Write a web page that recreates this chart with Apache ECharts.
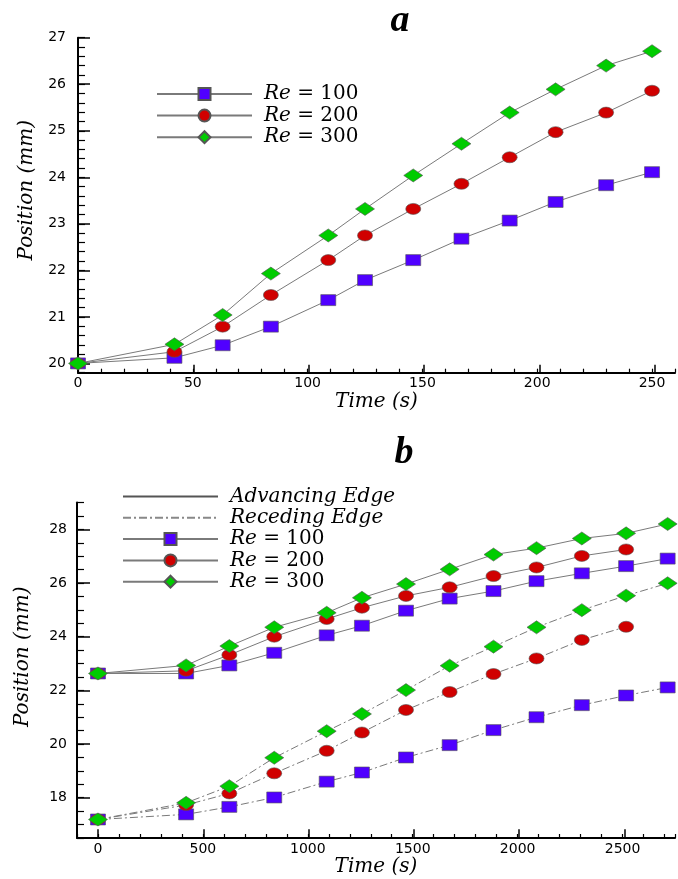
<!DOCTYPE html>
<html><head><meta charset="utf-8">
<script src="https://cdn.jsdelivr.net/npm/echarts@6/dist/echarts.min.js"></script>
<style>html,body{margin:0;padding:0;background:#fff}#c{width:678px;height:879px}</style>
</head><body><div id="c"></div>
<script>
// ---- Chart a ----
const timeA = [0, 42, 63, 84, 109, 125, 146, 167, 188, 208, 230, 250];
const posA_Re100 = [20, 20.12, 20.39, 20.79, 21.36, 21.79, 22.22, 22.68, 23.07, 23.47, 23.83, 24.11];
const posA_Re200 = [20, 20.25, 20.79, 21.47, 22.22, 22.75, 23.32, 23.86, 24.43, 24.97, 25.39, 25.86];
const posA_Re300 = [20, 20.41, 21.04, 21.93, 22.75, 23.32, 24.04, 24.72, 25.39, 25.89, 26.40, 26.71];
// ---- Chart b ----
const timeB = [0, 420, 626, 840, 1090, 1258, 1468, 1676, 1885, 2090, 2306, 2517, 2715];
const advRe100 = [22.63, 22.63, 22.93, 23.40, 24.05, 24.41, 24.97, 25.42, 25.70, 26.07, 26.36, 26.63, 26.91];
const advRe200 = [22.63, 22.73, 23.32, 24.00, 24.66, 25.08, 25.52, 25.84, 26.26, 26.58, 27.01, 27.25];
const advRe300 = [22.63, 22.93, 23.65, 24.35, 24.89, 25.45, 25.96, 26.51, 27.06, 27.30, 27.66, 27.85, 28.20];
const recRe100 = [17.19, 17.38, 17.66, 18.01, 18.60, 18.94, 19.50, 19.96, 20.52, 21.00, 21.45, 21.81, 22.11];
const recRe200 = [17.19, 17.73, 18.16, 18.91, 19.75, 20.43, 21.27, 21.94, 22.61, 23.19, 23.88, 24.37];
const recRe300 = [17.19, 17.81, 18.43, 19.49, 20.48, 21.12, 22.01, 22.92, 23.63, 24.35, 24.99, 25.53, 25.99];
// ---- Labels ----
const seriesNames = ['Re = 100', 'Re = 200', 'Re = 300'];
const edgeNames = ['Advancing Edge', 'Receding Edge'];
const xName = 'Time (s)';
const yName = 'Position (mm)';
const panelTitles = ['a', 'b'];

const zip = (xs, ys) => ys.map((y, i) => [xs[i], y]);
const COLORS = ['#5000ff', '#d00000', '#00cc00'];
const SYMBOLS = ['rect', 'circle', 'diamond'];
const SIZES = [[15, 11], [15, 11], [19, 13]];
const LINE = '#7a7a7a';
const DASHDOT = [8, 3, 2, 3];
const tickFont = { fontFamily: 'DejaVu Sans', fontSize: 14, color: '#000' };
const nameFont = { fontFamily: 'DejaVu Serif', fontStyle: 'italic', fontSize: 20, color: '#000' };
const axisLine = { show: true, onZero: false, lineStyle: { color: '#000', width: 2 } };
const hiddenLine = { show: false, onZero: false };
const isInt = v => Math.abs(v - Math.round(v)) < 1e-6;

function mkSeries(name, xi, yi, data, k, dashed) {
  return {
    type: 'line', name, xAxisIndex: xi, yAxisIndex: yi, data,
    symbol: SYMBOLS[k], symbolSize: SIZES[k],
    lineStyle: { color: LINE, width: 1, type: dashed ? DASHDOT : 'solid' },
    itemStyle: { color: COLORS[k], borderColor: '#555', borderWidth: 0.6 },
    animation: false, z: 2 + k
  };
}

const legendFmt = n => n.indexOf('Re = ') === 0 ? '{i|Re} = ' + n.slice(5) : '{i|' + n + '}';
const legendText = {
  fontFamily: 'DejaVu Serif', fontSize: 20, color: '#000', lineHeight: 15,
  padding: [0, 0, 0, 7],
  rich: { i: { fontFamily: 'DejaVu Serif', fontStyle: 'italic', fontSize: 20, lineHeight: 15 } }
};

const sA = 600 / 260, uA = 335 / 7.2;
const sB = 600 / 2850, uB = 335.5 / 12.5;

const option = {
  backgroundColor: '#fff',
  animation: false,
  graphic: [
    { type: 'text', x: 400, y: 21, style: { text: panelTitles[0], align: 'center', verticalAlign: 'middle', font: 'italic bold 38px "Liberation Serif"', fill: '#000' } },
    { type: 'text', x: 404, y: 453, style: { text: panelTitles[1], align: 'center', verticalAlign: 'middle', font: 'italic bold 38px "Liberation Serif"', fill: '#000' } }
  ],
  legend: [
    { orient: 'vertical', left: 156, top: 84, padding: 0, itemWidth: 95, itemHeight: 15, itemGap: 1.6,
      data: seriesNames, formatter: legendFmt, textStyle: legendText, selectedMode: false },
    { orient: 'vertical', left: 122, top: 486.5, padding: 0, itemWidth: 95, itemHeight: 15, itemGap: 1.3,
      data: [
        { name: edgeNames[0], itemStyle: { opacity: 0 } },
        { name: edgeNames[1], itemStyle: { opacity: 0 }, lineStyle: { type: DASHDOT } }
      ].concat(seriesNames),
      formatter: legendFmt, textStyle: legendText, selectedMode: false }
  ],
  grid: [
    { left: 78, top: 37.7, width: 600, height: 335 },
    { left: 78, top: 37.7, width: 250 * sA, height: 7 * uA },
    { left: 77, top: 502.5, width: 600, height: 335.5 },
    { left: 77 + 100 * sB, top: 502.5 + uB, width: 2500 * sB, height: 10 * uB }
  ],
  xAxis: [
    { gridIndex: 0, type: 'value', min: 0, max: 260, interval: 10, axisLine,
      axisTick: { inside: true, length: 4, lineStyle: { color: '#000', width: 1.2 } },
      axisLabel: { ...tickFont, margin: 4, formatter: v => (v % 50 === 0 ? String(v) : '') },
      splitLine: { show: false },
      name: xName, nameLocation: 'middle', nameGap: 17, nameTextStyle: nameFont },
    { gridIndex: 1, type: 'value', min: 0, max: 250, interval: 50, offset: 9.3,
      axisLine: hiddenLine, axisLabel: { show: false }, splitLine: { show: false },
      axisTick: { inside: true, length: 8, lineStyle: { color: '#000', width: 1.5 } } },
    { gridIndex: 2, type: 'value', min: -100, max: 2750, interval: 100, axisLine,
      axisTick: { inside: true, length: 4, lineStyle: { color: '#000', width: 1.2 } },
      axisLabel: { ...tickFont, margin: 4, formatter: v => (v >= 0 && v % 500 === 0 ? String(v) : '') },
      splitLine: { show: false },
      name: xName, nameLocation: 'middle', nameGap: 18, nameTextStyle: nameFont },
    { gridIndex: 3, type: 'value', min: 0, max: 2500, interval: 500, offset: 39.6,
      axisLine: hiddenLine, axisLabel: { show: false }, splitLine: { show: false },
      axisTick: { inside: true, length: 8, lineStyle: { color: '#000', width: 1.5 } } }
  ],
  yAxis: [
    { gridIndex: 0, type: 'value', min: 19.8, max: 27, interval: 0.2, axisLine,
      axisTick: { inside: true, length: 7, lineStyle: { color: '#000', width: 1.2 } },
      axisLabel: { ...tickFont, margin: 12, formatter: v => (isInt(v) ? String(Math.round(v)) : '') },
      splitLine: { show: false },
      name: yName, nameLocation: 'middle', nameGap: 40, nameRotate: 90,
      nameTextStyle: { ...nameFont, padding: [0, 0, 0, 30] } },
    { gridIndex: 1, type: 'value', min: 20, max: 27, interval: 1,
      axisLine: hiddenLine, axisLabel: { show: false }, splitLine: { show: false },
      axisTick: { inside: true, length: 12, lineStyle: { color: '#000', width: 1.5 } } },
    { gridIndex: 2, type: 'value', min: 16.5, max: 29, interval: 0.5, axisLine,
      axisTick: { inside: true, length: 7, lineStyle: { color: '#000', width: 1.2 } },
      axisLabel: { ...tickFont, margin: 10, formatter: v => (isInt(v) && Math.round(v) % 2 === 0 ? String(Math.round(v)) : '') },
      splitLine: { show: false },
      name: yName, nameLocation: 'middle', nameGap: 44, nameRotate: 90,
      nameTextStyle: { ...nameFont, padding: [0, 0, 0, 27] } },
    { gridIndex: 3, type: 'value', min: 18, max: 28, interval: 2, offset: 100 * sB,
      axisLine: hiddenLine, axisLabel: { show: false }, splitLine: { show: false },
      axisTick: { inside: true, length: 13, lineStyle: { color: '#000', width: 1.5 } } }
  ],
  series: [
    mkSeries(seriesNames[0], 0, 0, zip(timeA, posA_Re100), 0, false),
    mkSeries(seriesNames[1], 0, 0, zip(timeA, posA_Re200), 1, false),
    mkSeries(seriesNames[2], 0, 0, zip(timeA, posA_Re300), 2, false),
    { type: 'line', name: edgeNames[0], xAxisIndex: 2, yAxisIndex: 2, data: [], symbol: 'none',
      lineStyle: { color: '#555', width: 1 }, itemStyle: { color: '#555' } },
    { type: 'line', name: edgeNames[1], xAxisIndex: 2, yAxisIndex: 2, data: [], symbol: 'none',
      lineStyle: { color: '#888', width: 1, type: DASHDOT }, itemStyle: { color: '#888' } },
    mkSeries(seriesNames[0], 2, 2, zip(timeB, advRe100), 0, false),
    mkSeries(seriesNames[1], 2, 2, zip(timeB, advRe200), 1, false),
    mkSeries(seriesNames[2], 2, 2, zip(timeB, advRe300), 2, false),
    mkSeries(seriesNames[0], 2, 2, zip(timeB, recRe100), 0, true),
    mkSeries(seriesNames[1], 2, 2, zip(timeB, recRe200), 1, true),
    mkSeries(seriesNames[2], 2, 2, zip(timeB, recRe300), 2, true)
  ]
};
const chart = echarts.init(document.getElementById('c'));
chart.setOption(option);
</script>
</body></html>
